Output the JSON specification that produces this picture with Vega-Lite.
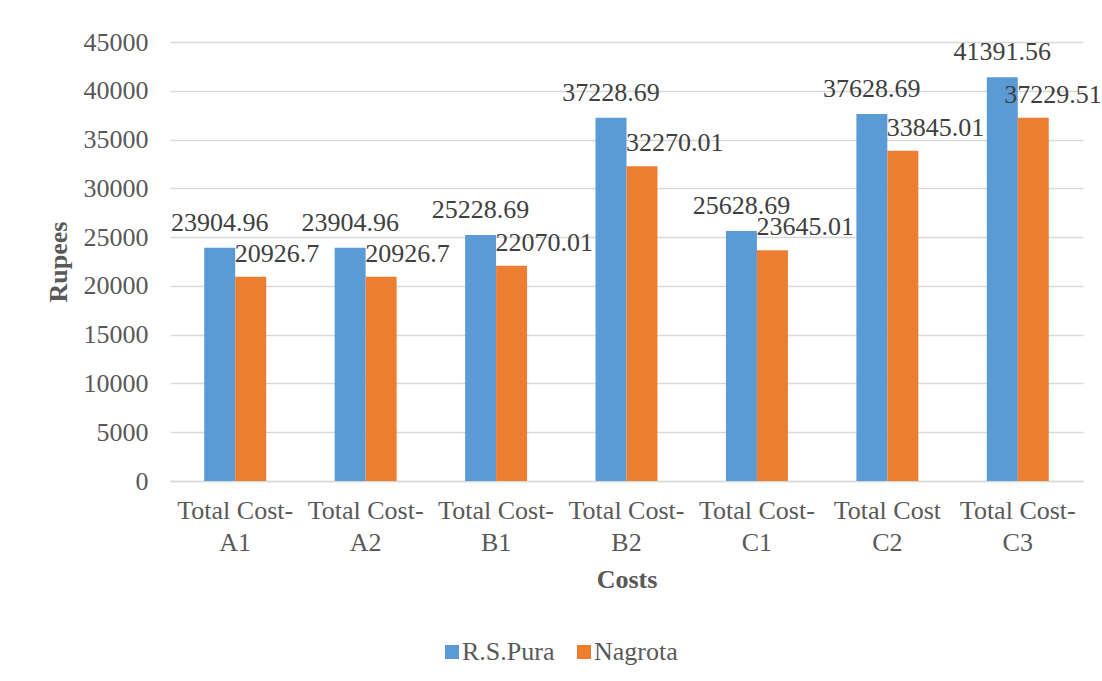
{
  "$schema": "https://vega.github.io/schema/vega-lite/v6.json",
  "width": 913,
  "height": 439,
  "autosize": {"type": "none"},
  "padding": {"left": 170, "top": 42, "right": 19, "bottom": 200},
  "background": "white",
  "config": {
    "font": "Liberation Serif",
    "text": {"font": "Liberation Serif"},
    "legend": {"labelFont": "Liberation Serif", "titleFont": "Liberation Serif"},
    "axis": {"labelFont": "Liberation Serif", "titleFont": "Liberation Serif"},
    "view": {"stroke": null}
  },
  "data": {
    "values": [
      {"cost": "Total Cost-A1", "place": "R.S.Pura", "value": 23904.96, "label": "23904.96"},
      {"cost": "Total Cost-A1", "place": "Nagrota", "value": 20926.7, "label": "20926.7"},
      {"cost": "Total Cost-A2", "place": "R.S.Pura", "value": 23904.96, "label": "23904.96"},
      {"cost": "Total Cost-A2", "place": "Nagrota", "value": 20926.7, "label": "20926.7"},
      {"cost": "Total Cost-B1", "place": "R.S.Pura", "value": 25228.69, "label": "25228.69"},
      {"cost": "Total Cost-B1", "place": "Nagrota", "value": 22070.01, "label": "22070.01"},
      {"cost": "Total Cost-B2", "place": "R.S.Pura", "value": 37228.69, "label": "37228.69"},
      {"cost": "Total Cost-B2", "place": "Nagrota", "value": 32270.01, "label": "32270.01"},
      {"cost": "Total Cost-C1", "place": "R.S.Pura", "value": 25628.69, "label": "25628.69"},
      {"cost": "Total Cost-C1", "place": "Nagrota", "value": 23645.01, "label": "23645.01"},
      {"cost": "Total Cost C2", "place": "R.S.Pura", "value": 37628.69, "label": "37628.69"},
      {"cost": "Total Cost C2", "place": "Nagrota", "value": 33845.01, "label": "33845.01"},
      {"cost": "Total Cost-C3", "place": "R.S.Pura", "value": 41391.56, "label": "41391.56"},
      {"cost": "Total Cost-C3", "place": "Nagrota", "value": 37229.51, "label": "37229.51"}
    ]
  },
  "encoding": {
    "x": {
      "field": "cost",
      "type": "nominal",
      "sort": null,
      "scale": {"paddingInner": 0.525, "paddingOuter": 0.2625},
      "axis": {
        "title": "Costs",
        "titleFontSize": 26,
        "titleFontWeight": "bold",
        "titleColor": "#595959",
        "titlePadding": 11,
        "labelAngle": 0,
        "labelFontSize": 26,
        "labelColor": "#595959",
        "labelLineHeight": 32,
        "labelPadding": 16,
        "labelExpr": "[slice(datum.label, 0, -2), slice(datum.label, -2)]",
        "ticks": false,
        "domainColor": "#d9d9d9",
        "domainWidth": 1.3
      }
    },
    "xOffset": {"field": "place", "type": "nominal", "sort": ["R.S.Pura", "Nagrota"]},
    "y": {
      "field": "value",
      "type": "quantitative",
      "scale": {"domain": [0, 45000], "nice": false},
      "axis": {
        "title": "Rupees",
        "titleFontSize": 26,
        "titleFontWeight": "bold",
        "titleColor": "#595959",
        "titlePadding": 12,
        "values": [0, 5000, 10000, 15000, 20000, 25000, 30000, 35000, 40000, 45000],
        "format": "d",
        "labelFontSize": 26,
        "labelColor": "#595959",
        "labelPadding": 22,
        "ticks": false,
        "domain": false,
        "gridColor": "#d9d9d9",
        "gridWidth": 1.3
      }
    }
  },
  "layer": [
    {
      "mark": {"type": "bar"},
      "encoding": {
        "color": {
          "field": "place",
          "type": "nominal",
          "sort": ["R.S.Pura", "Nagrota"],
          "scale": {"domain": ["R.S.Pura", "Nagrota"], "range": ["#5B9BD5", "#ED7D31"]},
          "legend": {
            "title": null,
            "orient": "none",
            "direction": "horizontal",
            "legendX": 269,
            "legendY": 597,
            "symbolType": "square",
            "symbolSize": 196,
            "symbolStrokeWidth": 0,
            "labelFont": "Liberation Serif",
            "labelFontSize": 26,
            "labelColor": "#595959",
            "labelOffset": -3,
            "columnPadding": 16
          }
        }
      }
    },
    {
      "transform": [{"filter": "datum.place === 'R.S.Pura'"}],
      "mark": {"type": "text", "font": "Liberation Serif", "align": "center", "baseline": "alphabetic", "dy": -17, "fontSize": 26, "color": "#404040"},
      "encoding": {"text": {"field": "label"}}
    },
    {
      "transform": [{"filter": "datum.place === 'Nagrota' && datum.cost !== 'Total Cost-C3'"}],
      "mark": {"type": "text", "font": "Liberation Serif", "align": "left", "baseline": "alphabetic", "dx": -16, "dy": -15, "fontSize": 26, "color": "#404040"},
      "encoding": {"text": {"field": "label"}}
    },
    {
      "transform": [{"filter": "datum.place === 'Nagrota' && datum.cost === 'Total Cost-C3'"}],
      "mark": {"type": "text", "font": "Liberation Serif", "align": "left", "baseline": "alphabetic", "dx": -29, "dy": -15, "fontSize": 26, "color": "#404040"},
      "encoding": {"text": {"field": "label"}}
    }
  ]
}
